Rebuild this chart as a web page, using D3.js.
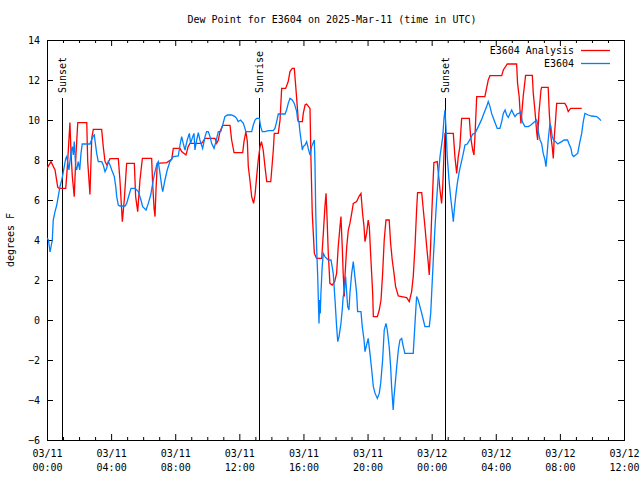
<!DOCTYPE html>
<html>
<head>
<meta charset="utf-8">
<script src="https://cdn.jsdelivr.net/npm/d3@7"></script>
<style>
  html, body { margin: 0; padding: 0; background: #fff; }
  svg { display: block; }
  text { font-family: "DejaVu Sans Mono", "Liberation Mono", monospace; font-size: 10px; fill: #000; }
</style>
</head>
<body>
<svg id="chart" width="640" height="480"></svg>
<script>
// ---------------- DATA ----------------
const chartTitle = "Dew Point for E3604 on 2025-Mar-11 (time in UTC)";
const yLabel = "degrees F";
const seriesNames = ["E3604 Analysis", "E3604"];
const seriesColors = ["#ff0000", "#0080ff"];
const startTime = Date.UTC(2025, 2, 11, 0, 0);
const endTime = Date.UTC(2025, 2, 12, 12, 0);
const yTicks = [-6, -4, -2, 0, 2, 4, 6, 8, 10, 12, 14];
const xTickHours = [0, 4, 8, 12, 16, 20, 24, 28, 32, 36];

// Sun events (hours after 03/11 00:00 UTC)
const eventLabels = ["Sunset", "Sunrise", "Sunset"];
const eventHours = [0.95, 13.25, 24.85];

// E3604 Analysis (red): hours after start, dew point (F)
const redHours = [0.00,0.25,0.50,0.67,0.75,1.17,1.27,1.43,1.50,1.58,1.70,1.81,1.92,2.48,2.54,2.68,2.79,2.89,3.41,3.51,3.62,3.74,3.93,4.45,4.55,4.70,4.82,4.97,5.45,5.53,5.66,5.80,5.95,6.53,6.59,6.68,6.74,6.80,6.88,7.47,7.78,7.88,8.30,8.40,8.67,8.81,8.92,9.65,9.86,10.48,10.59,10.69,10.79,10.96,11.42,11.52,11.67,12.21,12.29,12.41,12.50,12.56,12.66,12.77,12.89,12.98,13.08,13.18,13.29,13.38,13.49,13.60,13.71,13.96,14.02,14.12,14.18,14.43,14.54,14.64,14.89,15.05,15.16,15.30,15.43,15.52,15.64,15.68,15.93,15.99,16.10,16.20,16.41,16.47,16.55,16.68,16.82,17.14,17.24,17.34,17.41,17.47,17.55,17.65,17.80,17.95,18.07,18.17,18.28,18.34,18.42,18.48,18.55,18.59,18.70,18.80,18.90,19.01,19.11,19.32,19.46,19.59,19.69,19.78,19.84,19.94,20.04,20.11,20.19,20.32,20.36,20.61,20.73,20.84,20.94,21.04,21.15,21.35,21.44,21.54,21.65,21.75,21.92,22.13,22.44,22.60,22.75,22.85,22.96,23.06,23.12,23.38,23.48,23.58,23.69,23.79,23.85,23.94,24.00,24.10,24.14,24.35,24.52,24.62,24.69,24.77,24.83,25.35,25.45,25.56,25.66,25.76,25.87,26.35,26.43,26.56,26.64,26.70,26.81,27.32,27.53,27.64,28.37,28.47,28.72,29.30,29.36,29.46,29.51,29.57,29.71,29.86,30.28,30.34,30.44,30.55,30.61,30.69,30.82,30.86,31.27,31.34,31.44,31.52,31.59,31.65,31.73,31.80,32.31,32.42,32.52,32.67,32.83,33.36];
const redValues = [7.58,7.92,7.50,6.64,6.58,6.58,7.67,9.87,8.33,7.17,6.17,8.33,9.87,9.87,7.92,6.28,9.08,9.53,9.53,8.67,7.92,7.75,8.07,8.07,7.00,4.92,6.00,7.83,7.83,6.17,5.42,7.00,8.08,8.08,6.83,5.58,5.17,6.50,7.83,7.87,8.03,8.58,8.58,8.42,8.25,8.67,8.83,8.83,9.08,9.08,8.83,9.00,9.42,9.73,9.73,9.00,8.37,8.37,8.92,9.42,8.92,7.67,7.00,6.17,5.83,6.25,7.17,8.00,8.67,8.92,8.50,7.67,6.92,6.92,7.50,8.50,9.33,9.33,10.00,11.58,11.58,11.92,12.42,12.58,12.58,11.67,10.42,9.92,9.92,10.33,10.75,10.80,10.58,8.00,5.33,3.33,3.08,3.08,4.33,5.67,6.33,5.17,3.33,1.83,1.75,1.92,2.33,3.67,4.67,5.17,3.67,2.33,1.17,2.17,3.67,4.50,4.83,5.33,5.83,5.92,6.17,6.33,5.33,4.67,3.92,4.33,5.00,4.67,3.33,1.33,0.17,0.17,0.50,1.00,2.33,4.00,5.00,5.00,3.83,3.00,2.33,1.67,1.20,1.17,1.12,0.92,1.42,2.17,3.67,5.50,6.37,6.37,5.50,4.67,3.67,2.83,2.25,3.83,5.17,7.17,7.87,7.92,6.50,5.83,6.67,8.33,9.33,9.33,8.17,7.33,8.17,8.67,10.08,10.08,9.17,8.50,8.25,9.17,11.17,11.17,12.00,12.22,12.22,12.50,12.80,12.80,11.83,11.17,10.50,9.83,11.17,12.23,12.23,11.33,10.50,9.42,9.00,10.33,11.50,11.63,11.63,10.33,9.17,8.67,8.08,9.17,10.00,10.83,10.83,10.67,10.42,10.58,10.58,10.58];

// E3604 (blue): hours after start, dew point (F)
const blueHours = [0.00,0.09,0.19,0.33,0.39,0.50,0.61,0.70,0.81,0.92,1.02,1.17,1.23,1.29,1.37,1.50,1.58,1.64,1.70,1.79,1.85,1.95,2.04,2.12,2.20,2.68,2.79,2.89,2.95,2.99,3.10,3.20,3.41,3.51,3.62,3.72,3.82,3.93,4.04,4.20,4.29,4.35,4.45,4.55,4.87,4.97,5.12,5.24,5.49,5.70,5.86,5.97,6.18,6.32,6.47,6.63,6.74,6.84,6.94,7.05,7.16,7.22,7.36,7.50,7.67,7.88,8.19,8.30,8.40,8.50,8.61,8.75,8.88,8.96,9.09,9.17,9.23,9.34,9.44,9.54,9.71,9.86,9.96,10.06,10.17,10.27,10.42,10.54,10.69,10.84,10.96,11.10,11.25,11.52,11.73,11.83,11.93,12.08,12.25,12.35,12.41,12.77,12.87,12.98,13.08,13.25,13.33,13.43,13.60,13.81,14.12,14.22,14.33,14.43,14.85,14.95,15.05,15.16,15.30,15.43,15.58,15.64,15.72,15.78,15.85,15.93,15.99,16.10,16.20,16.30,16.41,16.51,16.68,16.72,16.76,16.82,16.89,16.93,16.97,17.01,17.05,17.09,17.17,17.24,17.34,17.55,17.72,17.86,17.97,18.07,18.14,18.22,18.34,18.42,18.48,18.55,18.63,18.70,18.76,18.84,18.90,19.01,19.11,19.21,19.32,19.38,19.59,19.67,19.78,19.84,19.94,20.04,20.15,20.26,20.36,20.47,20.61,20.73,20.82,20.94,21.04,21.15,21.23,21.35,21.44,21.50,21.60,21.65,21.71,21.82,21.92,22.02,22.13,22.23,22.33,22.85,22.96,23.06,23.16,23.27,23.38,23.48,23.58,23.85,23.94,24.00,24.10,24.21,24.31,24.41,24.52,24.69,24.77,24.83,24.89,24.97,25.10,25.18,25.25,25.31,25.35,25.41,25.52,25.60,25.72,25.93,26.08,26.22,26.43,26.56,26.70,26.91,27.12,27.22,27.43,27.53,27.64,27.74,27.89,28.01,28.09,28.26,28.37,28.47,28.58,28.68,28.78,28.89,28.99,29.09,29.20,29.32,29.44,29.57,29.65,29.82,30.03,30.19,30.44,30.55,30.61,30.65,30.76,30.86,30.96,31.07,31.13,31.19,31.27,31.38,31.44,31.52,31.61,31.73,31.86,32.00,32.11,32.27,32.48,32.56,32.69,32.77,32.86,32.98,33.11,33.25,33.36,33.46,33.56,33.77,33.98,34.29,34.44,34.56];
const blueValues = [4.10,4.00,3.40,4.00,5.00,5.42,5.75,6.17,6.67,7.00,7.42,8.08,8.17,7.92,7.50,8.42,8.67,8.25,8.92,7.67,7.50,7.92,7.50,8.33,8.80,8.80,9.03,9.20,9.25,9.00,8.33,7.92,7.92,7.75,7.42,7.58,7.92,7.75,7.50,7.17,6.67,6.17,5.75,5.70,5.70,5.83,6.25,6.58,6.58,6.42,6.00,5.67,5.50,5.83,6.25,7.00,7.42,7.75,7.92,7.33,6.67,6.42,7.00,7.50,7.92,8.17,8.20,8.75,9.17,8.83,8.50,9.00,9.33,8.83,9.17,9.33,8.50,9.00,9.37,9.00,8.58,9.17,9.42,9.42,9.17,8.83,8.58,8.92,9.42,9.42,9.75,10.17,10.25,10.25,10.17,10.08,9.92,10.00,9.83,9.58,9.42,9.42,9.75,10.00,10.08,10.08,9.67,9.42,9.42,9.47,9.47,9.58,9.92,10.30,10.30,10.50,10.83,11.08,11.00,10.83,10.42,10.00,9.92,9.42,9.00,8.50,8.67,8.75,8.92,8.58,8.25,8.67,9.00,7.83,5.67,3.67,2.17,1.00,-0.17,1.00,0.33,1.33,2.67,3.33,3.17,3.00,3.00,2.33,1.00,-0.33,-1.08,-0.83,-0.17,0.50,1.17,1.50,2.17,1.33,0.67,0.50,1.33,2.33,2.92,2.17,1.33,0.42,0.42,-0.33,-1.00,-1.58,-1.25,-0.92,-1.67,-2.50,-3.33,-3.67,-3.92,-3.67,-3.17,-2.00,-0.50,-0.17,-0.50,-1.33,-2.33,-3.33,-4.50,-3.83,-3.33,-2.33,-1.50,-1.00,-0.92,-1.33,-1.67,-1.67,-0.17,1.17,1.00,0.67,0.33,0.00,-0.33,-0.33,0.33,1.33,3.00,4.67,6.00,7.17,8.17,9.17,10.08,10.50,9.67,8.17,6.83,6.17,5.67,5.25,4.92,5.50,6.33,6.83,7.42,8.17,8.75,8.80,9.08,9.30,9.33,9.67,10.03,10.25,10.67,10.92,10.67,10.33,10.00,9.75,9.58,9.58,9.92,10.33,10.50,10.25,10.13,10.33,10.50,10.33,10.17,10.30,10.33,10.42,9.92,9.67,9.67,9.75,9.92,10.00,9.83,9.42,9.00,8.83,8.33,8.00,7.67,8.17,9.00,9.83,9.67,9.17,9.00,8.92,8.80,8.87,8.92,9.00,9.00,8.83,8.58,8.25,8.17,8.25,8.33,8.92,9.33,9.92,10.33,10.25,10.20,10.17,10.08,9.97];

// ---------------- CHART ----------------
const W = 640, H = 480;
const M = { left: 47, right: 16, top: 40, bottom: 40 };
const pw = W - M.left - M.right, ph = H - M.top - M.bottom;
const HOUR = 3600 * 1000;
const toDate = h => new Date(startTime + h * HOUR);

const svg = d3.select("#chart");
svg.append("rect").attr("width", W).attr("height", H).attr("fill", "#fff");

const x = d3.scaleUtc().domain([new Date(startTime), new Date(endTime)]).range([M.left, M.left + pw]);
const y = d3.scaleLinear().domain([-6, 14]).range([M.top + ph, M.top]);

const majorTicks = xTickHours.map(toDate);
const minorTicks = d3.range(0, 37, 1).filter(h => h % 4 !== 0).map(toDate);

// minor ticks (bottom & top)
svg.append("g").attr("transform", `translate(0,${M.top + ph})`)
  .call(d3.axisBottom(x).tickValues(minorTicks).tickSize(-3).tickFormat(""))
  .call(g => g.select(".domain").remove());
svg.append("g").attr("transform", `translate(0,${M.top})`)
  .call(d3.axisTop(x).tickValues(minorTicks).tickSize(-3).tickFormat(""))
  .call(g => g.select(".domain").remove());

// major x ticks with two-line labels
const fmtDate = d3.utcFormat("%m/%d"), fmtTime = d3.utcFormat("%H:%M");
const xb = svg.append("g").attr("transform", `translate(0,${M.top + ph})`)
  .call(d3.axisBottom(x).tickValues(majorTicks).tickSize(-6).tickFormat(""));
xb.select(".domain").remove();
xb.selectAll(".tick").each(function (d) {
  const t = d3.select(this).append("text").attr("fill", "#000").attr("text-anchor", "middle");
  t.append("tspan").attr("x", 0).attr("y", 17).text(fmtDate(d));
  t.append("tspan").attr("x", 0).attr("y", 31).text(fmtTime(d));
});
svg.append("g").attr("transform", `translate(0,${M.top})`)
  .call(d3.axisTop(x).tickValues(majorTicks).tickSize(-6).tickFormat(""))
  .call(g => g.select(".domain").remove());

// y axis
const yl = svg.append("g").attr("transform", `translate(${M.left},0)`)
  .call(d3.axisLeft(y).tickValues(yTicks).tickSize(-6).tickPadding(7).tickFormat(d3.format("d")));
yl.select(".domain").remove();
yl.selectAll("text").style("font-family", "DejaVu Sans Mono, monospace").style("font-size", "10px");
svg.append("g").attr("transform", `translate(${M.left + pw},0)`)
  .call(d3.axisRight(y).tickValues(yTicks).tickSize(-6).tickFormat(""))
  .call(g => g.select(".domain").remove());

svg.selectAll(".tick line").attr("stroke", "#000");
xb.selectAll("text").style("font-family", "DejaVu Sans Mono, monospace").style("font-size", "10px");

// frame
svg.append("rect").attr("x", M.left + 0.5).attr("y", M.top + 0.5)
  .attr("width", pw).attr("height", ph)
  .attr("fill", "none").attr("stroke", "#000").attr("stroke-width", 1);

// sun event lines
eventHours.forEach((h, i) => {
  const xx = Math.round(x(toDate(h))) + 0.5;
  svg.append("line").attr("x1", xx).attr("x2", xx).attr("y1", 98).attr("y2", M.top + ph)
    .attr("stroke", "#000").attr("stroke-width", 1);
  svg.append("text").attr("transform", `translate(${xx},93) rotate(-90)`)
    .attr("text-anchor", "start").attr("dy", "0.35em").text(eventLabels[i]);
});

// series lines
svg.append("clipPath").attr("id", "clip").append("rect")
  .attr("x", M.left).attr("y", M.top).attr("width", pw).attr("height", ph);
const line = d3.line().x(d => x(toDate(d[0]))).y(d => y(d[1]));
const series = [
  d3.zip(redHours, redValues),
  d3.zip(blueHours, blueValues)
];
series.forEach((s, i) => {
  svg.append("path").datum(s).attr("clip-path", "url(#clip)")
    .attr("fill", "none").attr("stroke", seriesColors[i]).attr("stroke-width", 1.3)
    .attr("stroke-linejoin", "miter").attr("d", line);
});

// legend
seriesNames.forEach((n, i) => {
  const ly = 50 + i * 13;
  svg.append("text").attr("x", 574).attr("y", ly).attr("dy", "0.35em")
    .attr("text-anchor", "end").text(n);
  svg.append("line").attr("x1", 581).attr("x2", 610).attr("y1", ly + 0.5).attr("y2", ly + 0.5)
    .attr("stroke", seriesColors[i]).attr("stroke-width", 1.3);
});

// title & y label
svg.append("text").attr("x", 332).attr("y", 19).attr("dy", "0.35em")
  .attr("text-anchor", "middle").text(chartTitle);
svg.append("text").attr("transform", `translate(10,240) rotate(-90)`)
  .attr("text-anchor", "middle").attr("dy", "0.35em").text(yLabel);
</script>
</body>
</html>
